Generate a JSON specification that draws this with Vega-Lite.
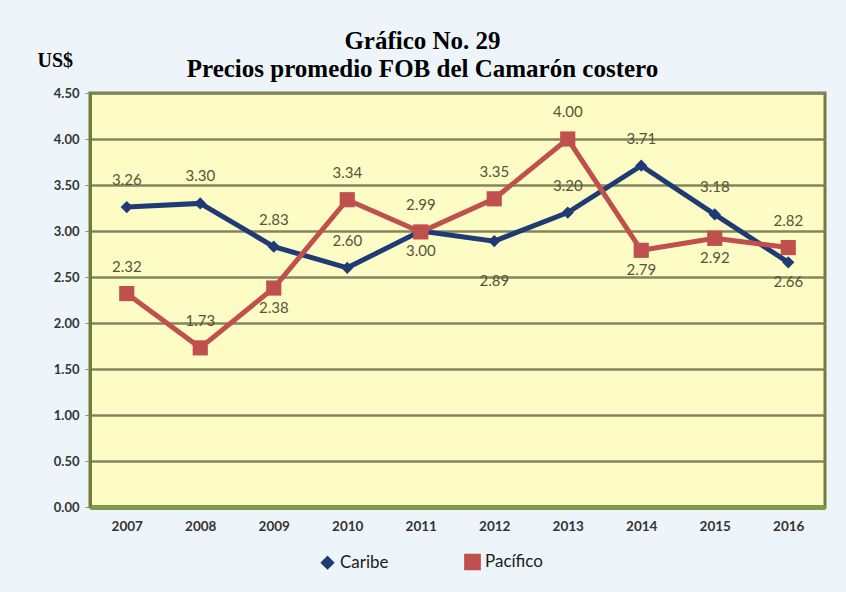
{
  "$schema": "https://vega.github.io/schema/vega-lite/v6.json",
  "width": 735,
  "height": 414,
  "autosize": {"type": "none"},
  "padding": {"left": 90, "top": 93, "right": 21, "bottom": 85},
  "background": "#eef5fa",
  "title": {
    "text": ["Gráfico No. 29", "Precios promedio FOB del Camarón costero"],
    "font": "Liberation Serif",
    "fontSize": 25,
    "fontWeight": "bold",
    "color": "#000000",
    "lineHeight": 28,
    "anchor": "middle",
    "frame": "group",
    "dx": -35,
    "offset": -32
  },
  "config": {
    "view": {"fill": "#fdfcc4", "stroke": "#6e7d3c", "strokeWidth": 3},
    "axis": {"labelFont": "Lato", "labelFontWeight": "bold", "labelColor": "#333333"}
  },
  "data": {
    "values": [
      {"year": "2007", "serie": "Caribe", "value": 3.26},
      {"year": "2008", "serie": "Caribe", "value": 3.30},
      {"year": "2009", "serie": "Caribe", "value": 2.83},
      {"year": "2010", "serie": "Caribe", "value": 2.60},
      {"year": "2011", "serie": "Caribe", "value": 3.00},
      {"year": "2012", "serie": "Caribe", "value": 2.89},
      {"year": "2013", "serie": "Caribe", "value": 3.20},
      {"year": "2014", "serie": "Caribe", "value": 3.71},
      {"year": "2015", "serie": "Caribe", "value": 3.18},
      {"year": "2016", "serie": "Caribe", "value": 2.66},
      {"year": "2007", "serie": "Pacífico", "value": 2.32},
      {"year": "2008", "serie": "Pacífico", "value": 1.73},
      {"year": "2009", "serie": "Pacífico", "value": 2.38},
      {"year": "2010", "serie": "Pacífico", "value": 3.34},
      {"year": "2011", "serie": "Pacífico", "value": 2.99},
      {"year": "2012", "serie": "Pacífico", "value": 3.35},
      {"year": "2013", "serie": "Pacífico", "value": 4.00},
      {"year": "2014", "serie": "Pacífico", "value": 2.79},
      {"year": "2015", "serie": "Pacífico", "value": 2.92},
      {"year": "2016", "serie": "Pacífico", "value": 2.82}
    ]
  },
  "encoding": {
    "x": {
      "field": "year",
      "type": "ordinal",
      "scale": {"padding": 0.5},
      "axis": {
        "title": null,
        "labelAngle": 0,
        "labelFontSize": 13.5,
        "labelPadding": 12,
        "ticks": false,
        "domainColor": "#7f9a4c",
        "domainWidth": 5
      }
    },
    "y": {
      "field": "value",
      "type": "quantitative",
      "scale": {"domain": [0, 4.5], "nice": false},
      "axis": {
        "values": [0, 0.5, 1, 1.5, 2, 2.5, 3, 3.5, 4, 4.5],
        "format": ".2f",
        "labelFontSize": 13,
        "labelPadding": 6,
        "tickSize": 5,
        "tickColor": "#888888",
        "domainColor": "#6e7d3c",
        "domainWidth": 3,
        "gridColor": "#84845f",
        "gridWidth": 2.5,
        "title": "US$",
        "titleAngle": 0,
        "titleAlign": "left",
        "titleBaseline": "alphabetic",
        "titleX": -53,
        "titleY": -27,
        "titleFont": "Liberation Serif",
        "titleFontSize": 20,
        "titleFontWeight": "bold",
        "titleColor": "#000000"
      }
    },
    "color": {
      "field": "serie",
      "type": "nominal",
      "scale": {"domain": ["Caribe", "Pacífico"], "range": ["#1f3b75", "#c0504d"]},
      "legend": {
        "title": null,
        "orient": "none",
        "direction": "horizontal",
        "legendX": 229,
        "legendY": 460,
        "labelFont": "Lato",
        "labelFontSize": 17,
        "labelColor": "#1a1a1a",
        "symbolSize": 220,
        "columnPadding": 72
      }
    }
  },
  "layer": [
    {
      "mark": {"type": "line", "strokeWidth": 5}
    },
    {
      "mark": {"type": "point", "filled": true, "opacity": 1},
      "encoding": {
        "shape": {
          "field": "serie",
          "type": "nominal",
          "scale": {"domain": ["Caribe", "Pacífico"], "range": ["diamond", "square"]}
        },
        "size": {
          "field": "serie",
          "type": "nominal",
          "scale": {"domain": ["Caribe", "Pacífico"], "range": [150, 230]},
          "legend": null
        }
      }
    },
    {
      "transform": [{"filter": "!((datum.serie == 'Caribe' && (datum.year == '2011' || datum.year == '2012' || datum.year == '2016')) || (datum.serie == 'Pacífico' && (datum.year == '2009' || datum.year == '2014' || datum.year == '2015')))"}],
      "mark": {"type": "text", "dy": -27, "font": "Lato", "fontSize": 15},
      "encoding": {"text": {"field": "value", "type": "quantitative", "format": ".2f"}, "color": {"value": "#55553a"}}
    },
    {
      "transform": [{"filter": "(datum.serie == 'Caribe' && (datum.year == '2011' || datum.year == '2016')) || (datum.serie == 'Pacífico' && (datum.year == '2009' || datum.year == '2014' || datum.year == '2015'))"}],
      "mark": {"type": "text", "dy": 20, "font": "Lato", "fontSize": 15},
      "encoding": {"text": {"field": "value", "type": "quantitative", "format": ".2f"}, "color": {"value": "#55553a"}}
    },
    {
      "transform": [{"filter": "datum.serie == 'Caribe' && datum.year == '2012'"}],
      "mark": {"type": "text", "dy": 40, "font": "Lato", "fontSize": 15},
      "encoding": {"text": {"field": "value", "type": "quantitative", "format": ".2f"}, "color": {"value": "#55553a"}}
    }
  ]
}
